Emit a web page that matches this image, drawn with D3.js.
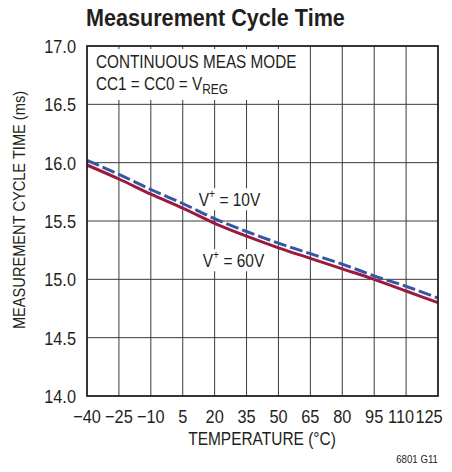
<!DOCTYPE html>
<html><head><meta charset="utf-8">
<script src="https://cdn.jsdelivr.net/npm/d3@7"></script>
<style>body{margin:0;background:#fff}svg{display:block}text{font-family:"Liberation Sans",Arial,sans-serif}</style>
</head><body><svg id="c" width="452" height="472"></svg>
<script>
const temps = [-40, -25, -10, 5, 20, 35, 50, 65, 80, 95, 110, 125];
const v10 = [16.02, 15.90, 15.77, 15.65, 15.52, 15.41, 15.31, 15.22, 15.13, 15.03, 14.94, 14.84];
const v60 = [15.98, 15.86, 15.73, 15.61, 15.48, 15.37, 15.27, 15.18, 15.09, 15.00, 14.90, 14.80];
const xTicks = [-40, -25, -10, 5, 20, 35, 50, 65, 80, 95, 110, 125];
const yTicks = [14.0, 14.5, 15.0, 15.5, 16.0, 16.5, 17.0];

const svg = d3.select("#c");
const L = 87, R = 438, T = 46, B = 396;
const x = d3.scaleLinear().domain([-40, 125]).range([L, R]);
const y = d3.scaleLinear().domain([14, 17]).range([B, T]);
const grid = "#3a3a3a", ink = "#231f20";
const SX = 0.86;

function label(px, py, str, size, anchor, opts) {
  opts = opts || {};
  const t = svg.append("text")
    .attr("transform", `translate(${px},${py})${opts.rot ? " rotate(" + opts.rot + ")" : ""} scale(${opts.sx || SX},1)`)
    .attr("font-size", size).attr("text-anchor", anchor || "start").attr("fill", ink);
  if (opts.bold) t.attr("font-weight", "bold");
  if (str !== null) t.text(str);
  return t;
}

// grid
svg.append("g").selectAll("line").data(xTicks.slice(1, -1)).join("line")
  .attr("x1", d => x(d)).attr("x2", d => x(d)).attr("y1", T).attr("y2", B)
  .attr("stroke", grid).attr("stroke-width", 1);
svg.append("g").selectAll("line").data(yTicks.slice(1, -1)).join("line")
  .attr("y1", d => y(d)).attr("y2", d => y(d)).attr("x1", L).attr("x2", R)
  .attr("stroke", grid).attr("stroke-width", 1);

// annotation box (white background)
svg.append("rect").attr("x", L + 1).attr("y", T + 3).attr("width", 218).attr("height", 51).attr("fill", "#fff");
label(96, 68, "CONTINUOUS MEAS MODE", 18, "start", {sx: 0.85});
const t2 = label(96, 90, null, 18, "start", {sx: 0.85});
t2.append("tspan").text("CC1 = CC0 = V");
t2.append("tspan").attr("font-size", 14).attr("dy", 4).text("REG");

// curve labels with white background
function vlabel(cx, cy, val) {
  const g = svg.append("g").attr("transform", `translate(${cx},${cy}) scale(0.86,1)`);
  const r = g.append("rect").attr("fill", "#fff");
  const t = g.append("text").attr("font-size", 18).attr("fill", ink).attr("text-anchor", "middle");
  t.append("tspan").text("V");
  t.append("tspan").attr("font-size", 12).attr("dy", -8).text("+");
  t.append("tspan").attr("dy", 8).text(" = " + val);
  const bb = t.node().getBBox();
  r.attr("x", bb.x - 3).attr("y", bb.y + 1).attr("width", bb.width + 6).attr("height", bb.height - 1);
}
vlabel(229.5, 206, "10V");
vlabel(233.5, 267, "60V");

// lines
const line = d3.line().x((d, i) => x(temps[i])).y(d => y(d)).curve(d3.curveMonotoneX);
svg.append("path").attr("d", line(v60)).attr("fill", "none").attr("stroke", "#9b1b3e").attr("stroke-width", 3);
svg.append("path").attr("d", line(v10)).attr("fill", "none").attr("stroke", "#3556a4").attr("stroke-width", 3).attr("stroke-dasharray", "13,4");

// frame
svg.append("rect").attr("x", L).attr("y", T).attr("width", R - L).attr("height", B - T)
  .attr("fill", "none").attr("stroke", ink).attr("stroke-width", 1.8);

// tick labels
yTicks.forEach(d => label(76, y(d) + 7, d.toFixed(1), 19, "end"));
const xOff = {110: -5, 125: -9};
xTicks.forEach(d => label(x(d) + (xOff[d] || 0), 423, d < 0 ? "\u2212" + Math.abs(d) : String(d), 19, "middle"));

label(262, 445, "TEMPERATURE (°C)", 18, "middle");
label(25, 210, "MEASUREMENT CYCLE TIME (ms)", 17, "middle", {rot: -90});
label(438, 463, "6801 G11", 11, "end", {sx: 0.88});
label(86, 26, "Measurement Cycle Time", 24, "start", {bold: true, sx: 0.9});
</script></body></html>
